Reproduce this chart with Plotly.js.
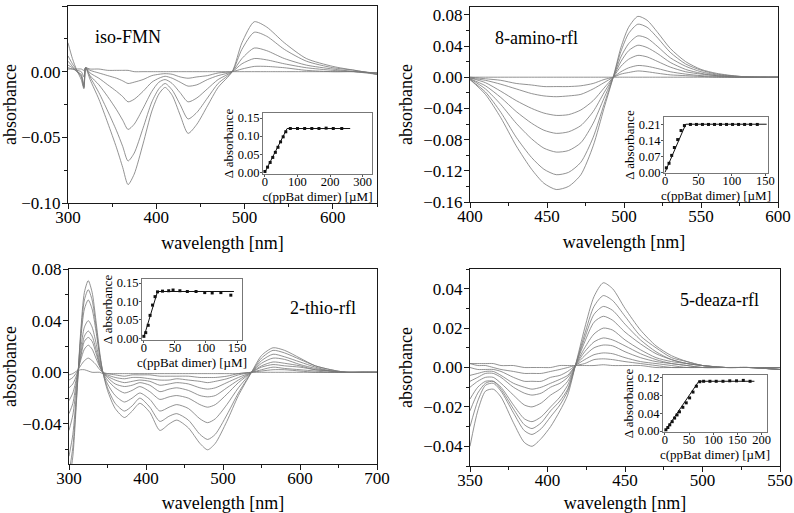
<!DOCTYPE html>
<html><head><meta charset="utf-8">
<script src="https://cdn.plot.ly/plotly-3.0.1.min.js"></script>
<style>html,body{margin:0;padding:0;background:#fff}#chart{width:794px;height:513px}</style>
</head><body><div id="chart"></div>
<script>
// ---------- Panel 1: iso-FMN ----------
const p1_wl = [300,305,310,315,318,320,325,335,345,355,362,368,375,385,395,403,410,418,427,436,446,458,470,486,497,511,525,545,570,600,625,650];
const p1_e = [0.022,0.010,0.001,-0.006,-0.013,0.003,-0.006,-0.021,-0.039,-0.058,-0.073,-0.086,-0.078,-0.055,-0.030,-0.017,-0.012,-0.018,-0.033,-0.047,-0.040,-0.026,-0.012,0.000,0.022,0.038,0.034,0.022,0.010,0.004,0.001,-0.002];
const p1_d = [0.012,0.006,0.001,-0.004,-0.012,0.003,-0.004,-0.016,-0.030,-0.045,-0.057,-0.068,-0.062,-0.043,-0.023,-0.013,-0.009,-0.014,-0.025,-0.036,-0.031,-0.020,-0.009,0.000,0.017,0.030,0.027,0.017,0.008,0.003,0.001,-0.002];
const p1_c = [0.008,0.004,0.000,-0.003,-0.012,0.003,-0.003,-0.010,-0.019,-0.029,-0.037,-0.044,-0.040,-0.028,-0.015,-0.008,-0.006,-0.009,-0.016,-0.023,-0.020,-0.013,-0.006,0.000,0.010,0.018,0.016,0.010,0.005,0.002,0.000,-0.002];
const p1_b = [0.005,0.003,0.000,-0.002,-0.010,0.003,-0.001,-0.005,-0.010,-0.015,-0.019,-0.023,-0.021,-0.015,-0.008,-0.005,-0.0035,-0.005,-0.008,-0.011,-0.010,-0.006,-0.003,0.000,0.006,0.010,0.009,0.006,0.003,0.001,0.000,-0.001];
const p1_a = [0.003,0.002,0.001,0.000,-0.004,0.003,0.001,-0.001,-0.003,-0.005,-0.007,-0.009,-0.008,-0.006,-0.003,-0.002,-0.0015,-0.002,-0.004,-0.005,-0.004,-0.003,-0.001,0.000,0.002,0.004,0.004,0.003,0.001,0.000,0.000,-0.001];
const p1_base = [0.002,0.002,0.002,0.002,0.001,0.003,0.002,0.002,0.001,0.001,0.001,0.001,0.000,0.000,0.000,0.000,0.000,0.000,0.000,0.000,0.000,0.000,0.000,0.000,0.000,0.000,0.000,0.000,0.000,0.000,0.000,-0.001];

// ---------- Panel 2: 8-amino-rfl ----------
const p2_wl = [400,410,420,430,440,448,456,464,472,480,487,493,498,503,509,515,522,530,540,550,560,575,590,600];
const p2_c1 = [-0.003,-0.022,-0.052,-0.088,-0.118,-0.136,-0.144,-0.140,-0.125,-0.088,-0.040,0.000,0.038,0.064,0.078,0.073,0.057,0.037,0.020,0.010,0.005,0.001,0.000,0.000];
const p2_c2 = [-0.003,-0.019,-0.045,-0.077,-0.103,-0.118,-0.125,-0.122,-0.109,-0.077,-0.035,0.000,0.033,0.056,0.068,0.064,0.050,0.032,0.017,0.009,0.004,0.001,0.000,0.000];
const p2_c3 = [-0.002,-0.015,-0.035,-0.059,-0.079,-0.091,-0.096,-0.094,-0.084,-0.059,-0.027,0.000,0.026,0.043,0.053,0.050,0.039,0.025,0.014,0.007,0.003,0.001,0.000,0.000];
const p2_c4 = [-0.002,-0.011,-0.026,-0.044,-0.059,-0.068,-0.072,-0.070,-0.062,-0.044,-0.020,0.000,0.020,0.034,0.041,0.038,0.030,0.019,0.010,0.005,0.002,0.000,0.000,0.000];
const p2_c5 = [-0.001,-0.007,-0.018,-0.030,-0.040,-0.046,-0.049,-0.048,-0.042,-0.030,-0.014,0.000,0.014,0.023,0.028,0.026,0.020,0.013,0.007,0.004,0.002,0.000,0.000,0.000];
const p2_c6 = [-0.001,-0.004,-0.009,-0.015,-0.021,-0.024,-0.025,-0.024,-0.022,-0.015,-0.007,0.000,0.007,0.012,0.015,0.014,0.011,0.007,0.004,0.002,0.001,0.000,0.000,0.000];
const p2_c7 = [0.000,-0.002,-0.004,-0.008,-0.010,-0.012,-0.012,-0.012,-0.011,-0.008,-0.003,0.000,0.004,0.006,0.008,0.007,0.005,0.003,0.002,0.001,0.000,0.000,0.000,0.000];
const p2_base = [0.000,0.000,0.000,0.000,0.000,0.000,0.000,0.000,0.000,0.000,0.000,0.000,0.000,0.000,0.000,0.000,0.000,0.000,0.000,0.000,0.000,0.000,0.000,0.000];

// ---------- Panel 3: 2-thio-rfl ----------
const p3_wl = [300,305,310,315,320,325,330,335,340,344,350,360,372,382,392,405,418,430,440,455,470,480,490,505,520,537,550,565,580,600,620,640,660,680,700];
const p3_c1 = [-0.085,-0.065,-0.020,0.030,0.062,0.071,0.062,0.040,0.015,0.000,-0.014,-0.028,-0.035,-0.030,-0.024,-0.031,-0.045,-0.040,-0.037,-0.043,-0.055,-0.060,-0.055,-0.038,-0.018,0.000,0.013,0.019,0.017,0.011,0.005,0.002,0.000,0.000,0.000];
const p3_c2 = [-0.078,-0.058,-0.018,0.027,0.056,0.064,0.056,0.036,0.013,0.000,-0.012,-0.024,-0.030,-0.026,-0.020,-0.027,-0.038,-0.034,-0.032,-0.037,-0.048,-0.052,-0.048,-0.033,-0.016,0.000,0.011,0.017,0.015,0.010,0.005,0.002,0.000,0.000,0.000];
const p3_c3 = [-0.065,-0.048,-0.014,0.024,0.049,0.056,0.049,0.032,0.012,0.000,-0.009,-0.018,-0.023,-0.020,-0.016,-0.021,-0.030,-0.027,-0.025,-0.028,-0.036,-0.039,-0.036,-0.025,-0.012,0.000,0.009,0.014,0.012,0.008,0.004,0.001,0.000,0.000,0.000];
const p3_c4 = [-0.045,-0.033,-0.009,0.017,0.035,0.040,0.035,0.023,0.008,0.000,-0.006,-0.012,-0.016,-0.014,-0.011,-0.015,-0.021,-0.019,-0.018,-0.020,-0.025,-0.027,-0.025,-0.017,-0.008,0.000,0.007,0.011,0.010,0.006,0.003,0.001,0.000,0.000,0.000];
const p3_c5 = [-0.032,-0.024,-0.006,0.013,0.028,0.032,0.028,0.018,0.006,0.000,-0.004,-0.009,-0.011,-0.010,-0.008,-0.010,-0.015,-0.013,-0.012,-0.014,-0.018,-0.019,-0.018,-0.012,-0.006,0.000,0.005,0.008,0.007,0.005,0.002,0.001,0.000,0.000,0.000];
const p3_c6 = [-0.022,-0.016,-0.004,0.011,0.024,0.027,0.024,0.015,0.005,0.000,-0.003,-0.006,-0.008,-0.007,-0.006,-0.007,-0.010,-0.009,-0.008,-0.009,-0.012,-0.013,-0.012,-0.008,-0.004,0.000,0.004,0.006,0.005,0.004,0.002,0.001,0.000,0.000,0.000];
const p3_c7 = [-0.012,-0.009,-0.002,0.009,0.018,0.021,0.018,0.011,0.004,0.000,-0.002,-0.004,-0.005,-0.004,-0.004,-0.005,-0.006,-0.006,-0.005,-0.006,-0.007,-0.008,-0.007,-0.005,-0.002,0.000,0.002,0.004,0.003,0.002,0.001,0.000,0.000,0.000,0.000];
const p3_c8 = [-0.006,-0.004,0.000,0.005,0.009,0.011,0.009,0.006,0.002,0.000,-0.001,-0.002,-0.003,-0.002,-0.002,-0.002,-0.003,-0.003,-0.003,-0.003,-0.004,-0.004,-0.004,-0.003,-0.001,0.000,0.001,0.002,0.002,0.001,0.000,0.000,0.000,0.000,0.000];
const p3_base = [-0.002,-0.001,0.001,0.002,0.002,0.001,0.000,0.000,0.000,-0.001,-0.001,-0.001,-0.001,-0.001,-0.001,-0.001,-0.001,-0.001,-0.001,-0.001,-0.001,-0.001,-0.001,-0.001,-0.001,0.000,0.000,0.000,0.000,0.000,0.000,0.000,0.000,0.000,0.000];

// ---------- Panel 4: 5-deaza-rfl ----------
const p4_wl = [350,355,360,365,370,378,385,390,396,402,408,413,418,424,430,436,442,450,460,470,480,490,500,515,530,550];
const p4_k1 = [-0.040,-0.022,-0.012,-0.011,-0.015,-0.028,-0.038,-0.040,-0.036,-0.030,-0.022,-0.014,0.001,0.020,0.036,0.043,0.040,0.030,0.019,0.011,0.006,0.003,0.001,0.000,0.000,-0.001];
const p4_k2 = [-0.030,-0.017,-0.009,-0.008,-0.012,-0.023,-0.032,-0.034,-0.031,-0.025,-0.019,-0.012,0.001,0.017,0.031,0.0365,0.034,0.026,0.016,0.010,0.005,0.003,0.001,0.000,0.000,-0.001];
const p4_k3 = [-0.022,-0.013,-0.008,-0.007,-0.011,-0.021,-0.029,-0.031,-0.028,-0.022,-0.017,-0.011,0.001,0.015,0.027,0.031,0.029,0.022,0.014,0.008,0.004,0.002,0.001,0.000,0.000,-0.001];
const p4_k4 = [-0.016,-0.010,-0.007,-0.007,-0.010,-0.019,-0.026,-0.0275,-0.025,-0.020,-0.015,-0.009,0.001,0.013,0.023,0.026,0.024,0.018,0.012,0.007,0.004,0.002,0.001,0.000,0.000,-0.001];
const p4_k5 = [-0.010,-0.007,-0.005,-0.005,-0.008,-0.014,-0.019,-0.020,-0.018,-0.014,-0.011,-0.007,0.001,0.010,0.017,0.020,0.019,0.014,0.009,0.005,0.003,0.002,0.001,0.000,0.000,-0.001];
const p4_k6 = [-0.007,-0.005,-0.003,-0.003,-0.005,-0.010,-0.013,-0.014,-0.013,-0.010,-0.008,-0.005,0.001,0.008,0.013,0.015,0.014,0.011,0.007,0.004,0.002,0.001,0.000,0.000,0.000,-0.001];
const p4_k7 = [-0.004,-0.003,-0.002,-0.002,-0.004,-0.008,-0.010,-0.011,-0.010,-0.008,-0.006,-0.004,0.001,0.006,0.010,0.0114,0.011,0.008,0.005,0.003,0.002,0.001,0.000,0.000,0.000,0.000];
const p4_k8 = [0.000,-0.001,-0.001,-0.001,-0.002,-0.005,-0.007,-0.007,-0.007,-0.005,-0.004,-0.002,0.001,0.004,0.0065,0.0074,0.007,0.005,0.003,0.002,0.001,0.000,0.000,0.000,0.000,0.000];
const p4_k9 = [0.002,0.001,0.001,0.000,-0.001,-0.002,-0.003,-0.003,-0.003,-0.002,-0.001,0.000,0.001,0.002,0.004,0.0044,0.004,0.003,0.002,0.001,0.000,0.000,0.000,0.000,0.000,0.000];
const p4_k10 = [0.002,0.002,0.002,0.002,0.001,0.001,0.000,0.000,0.000,0.000,0.001,0.001,0.001,0.001,0.001,0.0014,0.001,0.001,0.001,0.000,0.000,0.000,0.000,0.000,0.000,0.000];

// ---------- Insets: titration (Δ absorbance vs c(ppBat dimer)) ----------
const i1_conc = [0,8,16,24,32,40,48,56,64,78,100,122,144,166,188,210,236];
const i1_dA   = [0.002,0.014,0.027,0.041,0.055,0.069,0.084,0.098,0.112,0.121,0.121,0.121,0.121,0.121,0.122,0.121,0.121];
const i1_fitX = [0,68,262];
const i1_fitY = [0,0.121,0.121];

const i2_conc = [2,6,10,14,19,24,29,38,47,56,65,74,83,92,101,110,119,128,138];
const i2_dA   = [0.020,0.040,0.075,0.110,0.145,0.185,0.207,0.212,0.212,0.212,0.212,0.212,0.212,0.212,0.212,0.212,0.212,0.212,0.212];
const i2_fitX = [0,31,152];
const i2_fitY = [0,0.213,0.213];

const i3_conc = [0,3,7,10,14,18,22,30,40,47,58,70,84,98,110,124,140];
const i3_dA   = [0.005,0.015,0.035,0.062,0.090,0.113,0.126,0.128,0.129,0.131,0.129,0.127,0.127,0.124,0.123,0.124,0.117];
const i3_fitX = [0,22,145];
const i3_fitY = [0.003,0.127,0.127];

const i4_conc = [2,6,10,15,20,25,30,37,44,51,58,65,72,80,93,106,120,134,148,162,176];
const i4_dA   = [0.003,0.008,0.014,0.021,0.029,0.036,0.043,0.053,0.063,0.074,0.087,0.100,0.110,0.111,0.111,0.111,0.111,0.112,0.112,0.113,0.111];
const i4_fitX = [0,70,185];
const i4_fitY = [0,0.111,0.111];

// ---------- build ----------
const FONT = 'Liberation Serif, Times New Roman, serif';
const curveLine = {color:'#777777', width:0.8, shape:'spline', smoothing:0.7};
const traces = [];
function addCurves(wl, list, xa, ya){
  list.forEach(s => traces.push({x:wl, y:s, xaxis:xa, yaxis:ya, mode:'lines', line:curveLine, hoverinfo:'skip', showlegend:false}));
}
addCurves(p1_wl, [p1_base,p1_a,p1_b,p1_c,p1_d,p1_e], 'x', 'y');
addCurves(p2_wl, [p2_base,p2_c7,p2_c6,p2_c5,p2_c4,p2_c3,p2_c2,p2_c1], 'x2', 'y2');
addCurves(p3_wl, [p3_base,p3_c8,p3_c7,p3_c6,p3_c5,p3_c4,p3_c3,p3_c2,p3_c1], 'x3', 'y3');
addCurves(p4_wl, [p4_k10,p4_k9,p4_k8,p4_k7,p4_k6,p4_k5,p4_k4,p4_k3,p4_k2,p4_k1], 'x4', 'y4');

function addInset(cx, cy, fx, fy, xa, ya){
  traces.push({x:fx, y:fy, xaxis:xa, yaxis:ya, mode:'lines', line:{color:'#111', width:1}, hoverinfo:'skip', showlegend:false});
  traces.push({x:cx, y:cy, xaxis:xa, yaxis:ya, mode:'markers', marker:{symbol:'square', size:3, color:'#111'}, hoverinfo:'skip', showlegend:false, cliponaxis:false});
}
addInset(i1_conc, i1_dA, i1_fitX, i1_fitY, 'x5', 'y5');
addInset(i2_conc, i2_dA, i2_fitX, i2_fitY, 'x6', 'y6');
addInset(i3_conc, i3_dA, i3_fitX, i3_fitY, 'x7', 'y7');
addInset(i4_conc, i4_dA, i4_fitX, i4_fitY, 'x8', 'y8');

const W = 794, H = 513;
function dx(a,b){return [a/W, b/W];}
function dy(top,bot){return [1-bot/H, 1-top/H];}

function mainX(domain, range, dtick, minor, anchor){
  return {domain, range, anchor, dtick, tick0:0, showline:true, mirror:true, linecolor:'#1a1a1a', linewidth:1,
    ticks:'outside', ticklen:5, tickcolor:'#1a1a1a', minor:{dtick:minor, ticks:'outside', ticklen:3, tickcolor:'#1a1a1a'},
    ticklabelstandoff:-6,
    showgrid:false, zeroline:false, tickfont:{family:FONT, size:17, color:'#000'},
    title:{text:'wavelength [nm]', font:{family:FONT, size:18, color:'#000'}, standoff:9}};
}
function mainY(domain, range, dtick, minor, anchor){
  return {domain, range, anchor, dtick, tick0:0, tickformat:'.2f', showline:true, mirror:true, linecolor:'#1a1a1a', linewidth:1,
    ticks:'outside', ticklen:5, tickcolor:'#1a1a1a', minor:{dtick:minor, ticks:'outside', ticklen:3, tickcolor:'#1a1a1a'},
    ticklabelstandoff:-2,
    showgrid:false, zeroline:false, tickfont:{family:FONT, size:17, color:'#000'},
    title:{text:'absorbance', font:{family:FONT, size:18, color:'#000'}, standoff:5}};
}
function insetX(domain, range, tickvals, anchor){
  return {domain, range, anchor, tickvals, showline:true, mirror:true, linecolor:'#777', linewidth:1,
    ticks:'outside', ticklen:2, tickcolor:'#555', ticklabelstandoff:-6, showgrid:false, zeroline:false,
    tickfont:{family:FONT, size:12.5, color:'#000'},
    title:{text:'c(ppBat dimer) [µM]', font:{family:FONT, size:13, color:'#000'}, standoff:2}};
}
function insetY(domain, range, tickvals, anchor){
  return {domain, range, anchor, tickvals, tickformat:'.2f', showline:true, mirror:true, linecolor:'#777', linewidth:1,
    ticks:'outside', ticklen:2, tickcolor:'#555', ticklabelstandoff:-2, showgrid:false, zeroline:false,
    tickfont:{family:FONT, size:12.5, color:'#000'},
    title:{text:'Δ absorbance', font:{family:FONT, size:13, color:'#000'}, standoff:1}};
}

const layout = {
  width:W, height:H, margin:{l:0,r:0,t:0,b:0}, paper_bgcolor:'#fff', plot_bgcolor:'rgba(0,0,0,0)',
  font:{family:FONT, color:'#000'}, showlegend:false,
  xaxis:  mainX(dx(68,377),  [300,650], 100, 50, 'y'),
  yaxis:  mainY(dy(6,203),   [-0.10,0.05], 0.05, 0.025, 'x'),
  xaxis2: mainX(dx(470,778), [400,600], 50, 25, 'y2'),
  yaxis2: mainY(dy(7,202),   [-0.16,0.09], 0.04, 0.02, 'x2'),
  xaxis3: mainX(dx(69,377),  [300,700], 100, 50, 'y3'),
  yaxis3: mainY(dy(269,464), [-0.071,0.08], 0.04, 0.02, 'x3'),
  xaxis4: mainX(dx(470,780), [350,550], 50, 25, 'y4'),
  yaxis4: mainY(dy(269,466), [-0.05,0.05], 0.02, 0.01, 'x4'),
  xaxis5: insetX(dx(263,372), [-6,329], [0,100,200,300], 'y5'),
  yaxis5: insetY(dy(113,174), [-0.005,0.164], [0,0.05,0.10,0.15], 'x5'),
  xaxis6: insetX(dx(664,768), [-1.5,154], [0,50,100,150], 'y6'),
  yaxis6: insetY(dy(117,173), [-0.003,0.245], [0,0.07,0.14,0.21], 'x6'),
  xaxis7: insetX(dx(142,242), [-3,158], [0,50,100,150], 'y7'),
  yaxis7: insetY(dy(279,340), [-0.005,0.161], [0,0.05,0.10,0.15], 'x7'),
  xaxis8: insetX(dx(663,767), [-4,211], [0,50,100,150,200], 'y8'),
  yaxis8: insetY(dy(375,432), [-0.002,0.125], [0,0.04,0.08,0.12], 'x8'),
  annotations:[
    {text:'iso-FMN', x:93/W, y:1-37/H, xref:'paper', yref:'paper', xanchor:'left', yanchor:'middle', showarrow:false, font:{family:FONT, size:18, color:'#000'}},
    {text:'8-amino-rfl', x:493/W, y:1-38/H, xref:'paper', yref:'paper', xanchor:'left', yanchor:'middle', showarrow:false, font:{family:FONT, size:18, color:'#000'}},
    {text:'2-thio-rfl', x:288/W, y:1-308/H, xref:'paper', yref:'paper', xanchor:'left', yanchor:'middle', showarrow:false, font:{family:FONT, size:18, color:'#000'}},
    {text:'5-deaza-rfl', x:678/W, y:1-300/H, xref:'paper', yref:'paper', xanchor:'left', yanchor:'middle', showarrow:false, font:{family:FONT, size:18, color:'#000'}}
  ]
};
Plotly.newPlot('chart', traces, layout, {staticPlot:true, displayModeBar:false});
</script></body></html>
